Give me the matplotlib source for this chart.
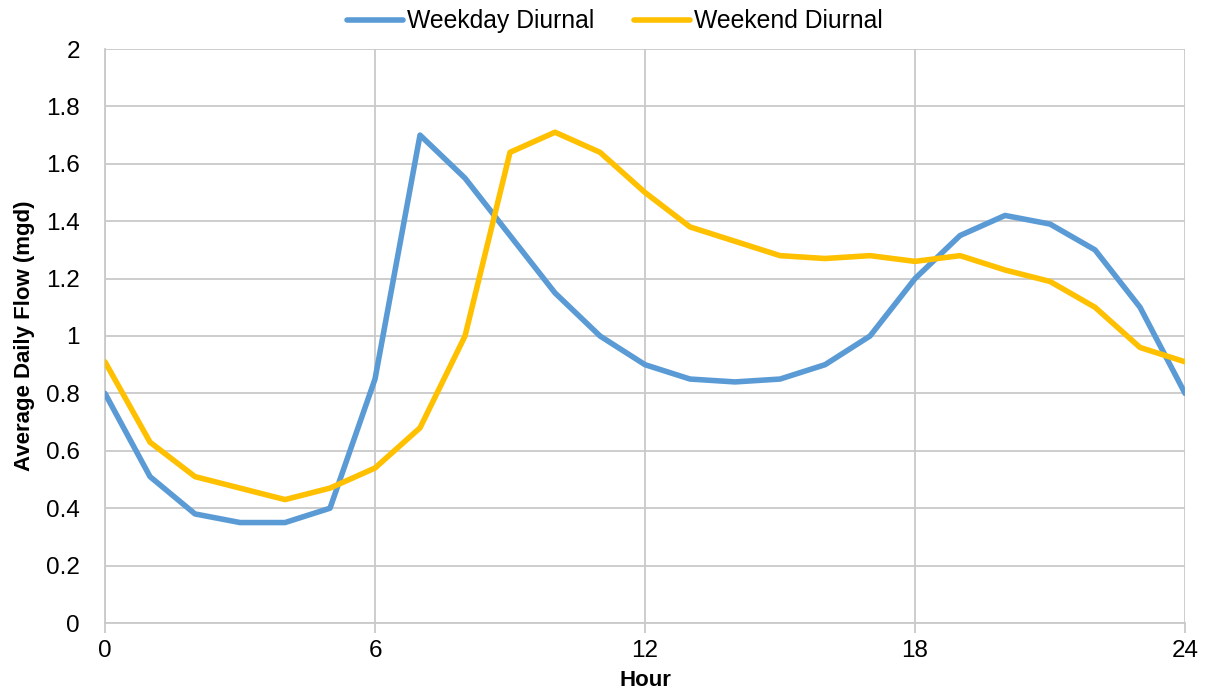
import matplotlib
matplotlib.use('Agg')
import matplotlib.pyplot as plt

plt.rcParams['font.family'] = ['Liberation Sans', 'DejaVu Sans']

# Dados
hours = list(range(25))
weekday = [0.80, 0.51, 0.38, 0.35, 0.35, 0.40, 0.85, 1.70, 1.55, 1.35,
           1.15, 1.00, 0.90, 0.85, 0.84, 0.85, 0.90, 1.00, 1.20, 1.35,
           1.42, 1.39, 1.30, 1.10, 0.80]
weekend = [0.91, 0.63, 0.51, 0.47, 0.43, 0.47, 0.54, 0.68, 1.00, 1.64,
           1.71, 1.64, 1.50, 1.38, 1.33, 1.28, 1.27, 1.28, 1.26, 1.28,
           1.23, 1.19, 1.10, 0.96, 0.91]
x_ticks = [0, 6, 12, 18, 24]
y_ticks = [0, 0.2, 0.4, 0.6, 0.8, 1, 1.2, 1.4, 1.6, 1.8, 2]
y_labels = ['0', '0.2', '0.4', '0.6', '0.8', '1', '1.2', '1.4', '1.6', '1.8', '2']

GRID = '#C9C9C9'

fig = plt.figure(figsize=(12.07, 7.0), dpi=100)
ax = fig.add_axes([0.087, 0.11, 0.8948, 0.82])

ax.plot(hours, weekday, color='#5B9BD5', linewidth=4, label='Weekday Diurnal',
        solid_capstyle='round', solid_joinstyle='round', zorder=3)
ax.plot(hours, weekend, color='#FFC000', linewidth=4, label='Weekend Diurnal',
        solid_capstyle='round', solid_joinstyle='round', zorder=3)

ax.set_xlim(0, 24)
ax.set_ylim(0, 2)
ax.set_xticks(x_ticks)
ax.set_yticks(y_ticks)
ax.set_yticklabels(y_labels)
ax.grid(True, color=GRID, linewidth=1.3)
ax.set_axisbelow(True)

for side in ['top', 'right']:
    ax.spines[side].set_visible(False)
for side in ['left', 'bottom']:
    ax.spines[side].set_color(GRID)
    ax.spines[side].set_linewidth(1.3)

ax.tick_params(axis='x', colors=GRID, length=7, width=1.3, labelcolor='black',
               labelsize=17.5, pad=5)
ax.tick_params(axis='y', length=0, labelcolor='black', labelsize=17.5, pad=18)

ax.set_xlabel('Hour', fontsize=16, fontweight='bold', labelpad=6)
ax.set_ylabel('Average Daily Flow (mgd)', fontsize=16, fontweight='bold', labelpad=8)

ax.legend(loc='upper center', bbox_to_anchor=(0.472, 1.108), ncol=2, frameon=False,
          fontsize=17.8, handlelength=2.27, handletextpad=0.16, columnspacing=1.62)

plt.savefig('out.png', dpi=100)
